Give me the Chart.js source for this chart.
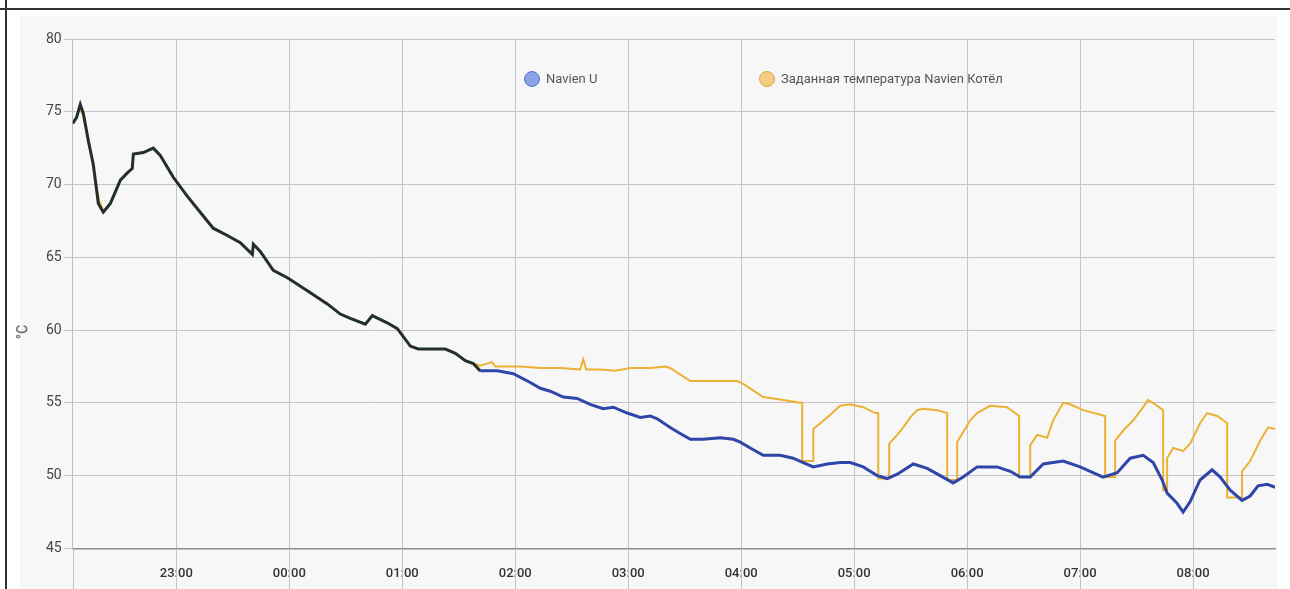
<!DOCTYPE html>
<html>
<head>
<meta charset="utf-8">
<script src="https://cdn.jsdelivr.net/npm/chart.js@4.4.0/dist/chart.umd.min.js"></script>
<style>
  html, body { margin: 0; padding: 0; background: #fff; width: 1290px; height: 589px; overflow: hidden; font-family: Roboto, sans-serif; }
  .frameTop { position: absolute; left: 0; top: 8px; width: 1290px; height: 2px; background: #333; }
  .frameLeft { position: absolute; left: 5px; top: 0; width: 2px; height: 589px; background: #333; z-index: 2; }
  .card { position: absolute; left: 20px; top: 16px; width: 1257px; height: 573px; background: #f7f7f7; }
  #wrap { position: absolute; left: 20px; top: 16px; width: 1257px; height: 584px; }
  .unit { position: absolute; left: 15px; top: 324px; transform: rotate(-90deg); font-size: 14px; color: #444; }
  .legend { position: absolute; top: 70px; font-size: 13px; color: #555; white-space: nowrap; }
  .legend i { display: inline-block; width: 16px; height: 16px; border-radius: 50%; border: 1.5px solid; vertical-align: middle; margin-right: 6px; box-sizing: border-box; }
  .legend span { vertical-align: middle; }
</style>
</head>
<body>
<div class="frameTop"></div>
<div class="frameLeft"></div>
<div class="card"></div>
<div id="wrap"><canvas id="grafico"></canvas></div>
<div class="unit">°C</div>
<div id="legenda"></div>
<script>
// Navien U (minutes since 22:00, °C)
const minutosU = [5, 7, 9, 10.6, 13.3, 15.9, 18.6, 21.2, 25.0, 30.3,
  34.0, 36.6, 37.2, 42.5, 47.8, 51.5, 58.4, 65.8, 72.7, 79.6,
  87.1, 94.0, 100.4, 100.9, 104.6, 111.5, 119.0, 129.6, 140.2, 147.1,
  152.4, 160.4, 164.1, 172.0, 177.4, 184.3, 188.5, 194.9, 202.9, 208.2,
  213.5, 217.7, 221.4, 230.5, 239.0, 248.0, 253.3, 258.6, 265.5, 272.9,
  279.8, 286.7, 292.1, 299.5, 306.4, 311.7, 315.4, 322.3, 327.6, 333.0,
  339.8, 348.9, 355.8, 359.5, 364.8, 371.7, 380.7, 387.6, 392.9, 398.3,
  405.7, 412.6, 417.9, 424.8, 428.5, 432.2, 437.5, 442.9, 451.4, 458.8,
  465.7, 472.6, 477.9, 485.3, 495.9, 502.9, 508.2, 513.5, 520.4, 531.0,
  540.0, 552.2, 559.7, 566.6, 573.5, 578.8, 583.6, 586.2, 591.5, 594.7,
  598.4, 603.7, 610.1, 614.4, 619.7, 626.0, 630.3, 634.5, 639.3, 643.6];
const tempU = [74.2, 74.6, 75.5, 74.9, 73.0, 71.4, 68.7, 68.1, 68.7, 70.3,
  70.8, 71.1, 72.1, 72.2, 72.5, 72.0, 70.5, 69.2, 68.1, 67.0,
  66.5, 66.0, 65.2, 65.9, 65.4, 64.1, 63.6, 62.7, 61.8, 61.1,
  60.8, 60.4, 61.0, 60.5, 60.1, 58.9, 58.7, 58.7, 58.7, 58.4,
  57.9, 57.7, 57.2, 57.2, 57.0, 56.4, 56.0, 55.8, 55.4, 55.3,
  54.9, 54.6, 54.7, 54.3, 54.0, 54.1, 53.9, 53.3, 52.9, 52.5,
  52.5, 52.6, 52.5, 52.3, 51.9, 51.4, 51.4, 51.2, 50.9, 50.6,
  50.8, 50.9, 50.9, 50.6, 50.3, 50.0, 49.8, 50.1, 50.8, 50.5,
  50.0, 49.5, 49.9, 50.6, 50.6, 50.3, 49.9, 49.9, 50.8, 51.0,
  50.6, 49.9, 50.2, 51.2, 51.4, 50.9, 49.7, 48.8, 48.1, 47.5,
  48.2, 49.7, 50.4, 49.9, 49.0, 48.3, 48.6, 49.3, 49.4, 49.2];

// Заданная температура Navien Котёл
const minutosSet = [8.5, 10.6, 13.8, 16.5, 19.2, 21.5, 25.0, 30.3, 34.0, 36.6,
  37.2, 42.5, 47.8, 51.5, 58.4, 65.8, 72.7, 79.6, 87.1, 94.0,
  100.4, 100.9, 104.6, 111.5, 119.0, 129.6, 140.2, 147.1, 152.4, 160.4,
  164.1, 172.0, 177.4, 184.3, 188.5, 194.9, 202.9, 208.2, 213.5, 217.7,
  221.4, 227.8, 229.4, 242.7, 253.3, 263.9, 274.5, 276.1, 277.7, 285.1,
  293.1, 301.1, 311.7, 319.7, 322.3, 333.0, 343.6, 358.0, 361.1, 371.7,
  382.3, 391.3, 392.4, 392.4, 398.3, 398.3, 405.7, 412.6, 417.9, 424.8,
  431.2, 432.8, 432.8, 438.6, 438.6, 442.9, 446.0, 449.8, 453.5, 456.7,
  464.1, 469.4, 469.4, 474.7, 474.7, 477.9, 481.6, 485.3, 492.2, 501.2,
  507.6, 507.6, 513.5, 513.5, 517.2, 522.5, 525.7, 531.0, 534.7, 541.6,
  553.3, 553.3, 558.6, 558.6, 562.9, 568.2, 573.5, 576.1, 580.9, 584.1,
  584.1, 586.2, 586.2, 589.4, 594.7, 598.4, 603.7, 607.5, 612.8, 618.1,
  618.1, 626.0, 626.0, 630.3, 635.6, 639.8, 643.6];
const tempSet = [75.2, 74.8, 72.8, 70.6, 68.8, 68.1, 68.7, 70.3, 70.8, 71.1,
  72.1, 72.2, 72.5, 72.0, 70.5, 69.2, 68.1, 67.0, 66.5, 66.0,
  65.2, 65.9, 65.4, 64.1, 63.6, 62.7, 61.8, 61.1, 60.8, 60.4,
  61.0, 60.5, 60.1, 58.9, 58.7, 58.7, 58.7, 58.4, 57.9, 57.7,
  57.55, 57.8, 57.5, 57.5, 57.4, 57.4, 57.3, 58.0, 57.3, 57.3,
  57.2, 57.4, 57.4, 57.5, 57.4, 56.5, 56.5, 56.5, 56.3, 55.4,
  55.2, 55.0, 55.0, 51.0, 51.0, 53.2, 54.0, 54.8, 54.9, 54.7,
  54.3, 54.3, 49.8, 49.8, 52.2, 52.8, 53.3, 54.0, 54.5, 54.6,
  54.5, 54.3, 49.7, 49.7, 52.3, 53.0, 53.8, 54.3, 54.8, 54.7,
  54.1, 49.9, 49.9, 52.1, 52.8, 52.6, 53.8, 55.0, 54.9, 54.5,
  54.1, 49.9, 49.9, 52.4, 53.1, 53.8, 54.7, 55.2, 54.8, 54.5,
  49.0, 49.0, 51.2, 51.9, 51.7, 52.2, 53.6, 54.3, 54.1, 53.6,
  48.5, 48.5, 50.3, 51.0, 52.4, 53.3, 53.2];

const horasMin = [60, 120, 180, 240, 300, 360, 420, 480, 540, 600];
const horasLabel = ['23:00', '00:00', '01:00', '02:00', '03:00', '04:00', '05:00', '06:00', '07:00', '08:00'];
const series = ['Navien U', 'Заданная температура Navien Котёл'];
const limiteSobreposto = 218; // até aqui as duas linhas coincidem

const pontos = (xs, ys) => xs.map((x, i) => ({ x: x, y: ys[i] }));

// legenda em HTML (fica dentro da área do gráfico)
const legendaCores = [['#8aa2e6', '#5a72c8'], ['#f4cd85', '#d9a73c']];
const legendaX = [524, 759];
document.getElementById('legenda').innerHTML = series.map((s, i) =>
  `<div class="legend" style="left:${legendaX[i]}px"><i style="background:${legendaCores[i][0]};border-color:${legendaCores[i][1]}"></i><span>${s}</span></div>`
).join('');

// prolonga as linhas verticais da grade até o fim do canvas
const extensaoGrade = {
  id: 'extensaoGrade',
  afterDraw(chart) {
    const ctx = chart.ctx;
    const x = chart.scales.x;
    const fundo = chart.chartArea.bottom;
    ctx.save();
    ctx.strokeStyle = '#c4c4c4';
    ctx.lineWidth = 1;
    [x.min].concat(horasMin).forEach(v => {
      const px = Math.round(x.getPixelForValue(v)) + 0.5;
      ctx.beginPath();
      ctx.moveTo(px, fundo + 1);
      ctx.lineTo(px, chart.height);
      ctx.stroke();
    });
    ctx.restore();
  }
};

new Chart(document.getElementById('grafico'), {
  type: 'line',
  data: {
    datasets: [{
      label: series[0],
      data: pontos(minutosU, tempU),
      borderColor: '#2f45a8',
      borderWidth: 3,
      pointRadius: 0,
      tension: 0,
      segment: {
        borderColor: ctx => ctx.p0.parsed.x < limiteSobreposto ? '#22302c' : '#2f45a8'
      }
    }, {
      label: series[1],
      data: pontos(minutosSet, tempSet),
      borderColor: '#ebb133',
      borderWidth: 2,
      pointRadius: 0,
      tension: 0
    }]
  },
  options: {
    responsive: true,
    maintainAspectRatio: false,
    animation: false,
    layout: { padding: { top: 23, right: 2, bottom: 0, left: 24 } },
    plugins: { legend: { display: false }, tooltip: { enabled: false } },
    scales: {
      x: {
        type: 'linear',
        min: 5,
        max: 643.5,
        afterBuildTicks: axis => { axis.ticks = horasMin.map(v => ({ value: v })); },
        grid: { color: '#c4c4c4', lineWidth: 1, drawTicks: false },
        border: { color: '#8c8c8c', width: 1.5 },
        ticks: {
          padding: 18,
          maxRotation: 0,
          color: '#333',
          font: { family: 'Roboto', size: 13, weight: '500' },
          callback: v => horasLabel[horasMin.indexOf(v)]
        }
      },
      y: {
        min: 45,
        max: 80,
        grid: { color: '#c4c4c4', lineWidth: 1, tickLength: 9 },
        border: { color: '#bdbdbd', width: 1 },
        ticks: {
          stepSize: 5,
          padding: 2,
          color: '#444',
          font: { family: 'Roboto', size: 14 }
        }
      }
    }
  },
  plugins: [extensaoGrade]
});
</script>
</body>
</html>
